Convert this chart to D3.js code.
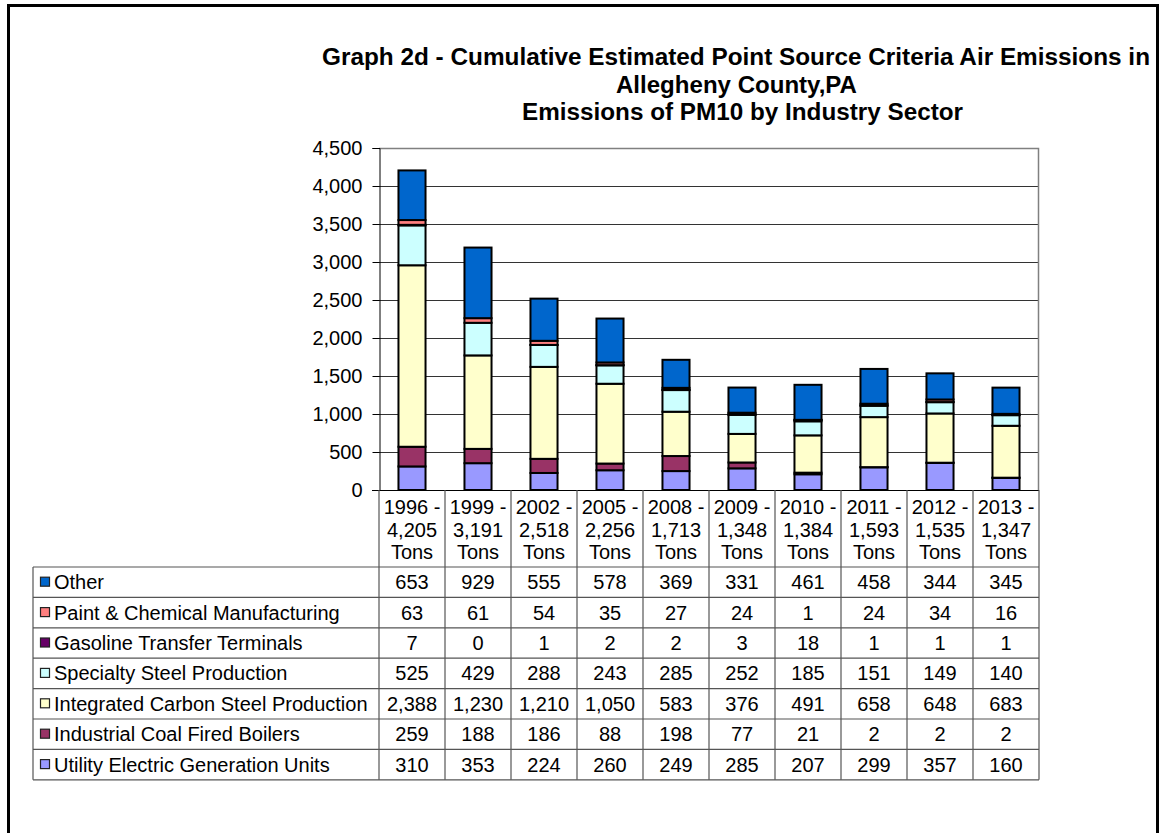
<!DOCTYPE html>
<html>
<head>
<meta charset="utf-8">
<script src="https://cdn.jsdelivr.net/npm/d3@7"></script>
<style>
  body { margin: 0; background: #fff; }
  svg { display: block; font-family: "Liberation Sans", Arial, sans-serif; }
</style>
</head>
<body>
<svg id="chart" width="1161" height="833"></svg>
<script>
// data
const years = ["1996", "1999", "2002", "2005", "2008", "2009", "2010", "2011", "2012", "2013"];
const totalLabels = ["4,205", "3,191", "2,518", "2,256", "1,713", "1,348", "1,384", "1,593", "1,535", "1,347"];

const other      = [653, 929, 555, 578, 369, 331, 461, 458, 344, 345];
const paint      = [63, 61, 54, 35, 27, 24, 1, 24, 34, 16];
const gasoline   = [7, 0, 1, 2, 2, 3, 18, 1, 1, 1];
const specialty  = [525, 429, 288, 243, 285, 252, 185, 151, 149, 140];
const integrated = [2388, 1230, 1210, 1050, 583, 376, 491, 658, 648, 683];
const coal       = [259, 188, 186, 88, 198, 77, 21, 2, 2, 2];
const utility    = [310, 353, 224, 260, 249, 285, 207, 299, 357, 160];

const yTicks = [0, 500, 1000, 1500, 2000, 2500, 3000, 3500, 4000, 4500];

// series, bottom of the stack first
const series = [
  { key: "utility",    name: "Utility Electric Generation Units",   color: "#9999FF", values: utility },
  { key: "coal",       name: "Industrial Coal Fired Boilers",       color: "#993366", values: coal },
  { key: "integrated", name: "Integrated Carbon Steel Production",  color: "#FFFFCC", values: integrated },
  { key: "specialty",  name: "Specialty Steel Production",          color: "#CCFFFF", values: specialty },
  { key: "gasoline",   name: "Gasoline Transfer Terminals",         color: "#660066", values: gasoline },
  { key: "paint",      name: "Paint & Chemical Manufacturing",      color: "#FF8080", values: paint },
  { key: "other",      name: "Other",                               color: "#0066CC", values: other }
];

const svg = d3.select("#chart");

// outer frame
svg.append("rect")
  .attr("x", 8.5).attr("y", 5.5)
  .attr("width", 1149).attr("height", 840)
  .attr("fill", "none")
  .attr("stroke", "#000")
  .attr("stroke-width", 3);

// title (width of each line)
const titleLines = [
  { text: "Graph 2d - Cumulative Estimated Point Source Criteria Air Emissions in", cx: 736, w: 828 },
  { text: "Allegheny County,PA", cx: 736.5, w: 241 },
  { text: "Emissions of PM10 by Industry Sector", cx: 742.5, w: 441 }
];
svg.append("g")
  .selectAll("text")
  .data(titleLines)
  .join("text")
  .attr("x", d => d.cx)
  .attr("y", (d, i) => 65 + i * 27.5)
  .attr("text-anchor", "middle")
  .attr("font-size", "23.5px")
  .attr("font-weight", "bold")
  .attr("fill", "#000")
  .attr("textLength", d => d.w)
  .attr("lengthAdjust", "spacingAndGlyphs")
  .text(d => d.text);

// plot area
const plot = { left: 379, right: 1039, top: 148, bottom: 490 };

const x = d3.scaleBand()
  .domain(years)
  .range([plot.left, plot.right])
  .paddingInner(0.59)
  .paddingOuter(0.295);

const y = d3.scaleLinear()
  .domain([0, 4500])
  .range([plot.bottom, plot.top]);

// gridlines
svg.append("g")
  .selectAll("line")
  .data(yTicks.filter(t => t > 0 && t < 4500))
  .join("line")
  .attr("x1", plot.left).attr("x2", plot.right)
  .attr("y1", d => Math.round(y(d)) + 0.5)
  .attr("y2", d => Math.round(y(d)) + 0.5)
  .attr("stroke", "#333")
  .attr("stroke-width", 1);

// plot border top/right
svg.append("path")
  .attr("d", `M${plot.left},${plot.top + 0.5}H${plot.right - 0.5}V${plot.bottom}`)
  .attr("fill", "none")
  .attr("stroke", "#808080")
  .attr("stroke-width", 1.5);

// y axis
const yAxis = svg.append("g")
  .attr("transform", `translate(${plot.left + 0.5},0)`)
  .call(d3.axisLeft(y).tickValues(yTicks).tickSize(7).tickPadding(10).tickFormat(d3.format(",")));
yAxis.selectAll("text")
  .attr("font-size", "20px")
  .attr("font-family", "Liberation Sans, Arial, sans-serif")
  .attr("fill", "#000");
yAxis.select(".domain").attr("stroke", "#000");
yAxis.selectAll(".tick line").attr("stroke", "#000");

// stacked bars
const table = years.map((yr, i) => {
  const row = { year: yr };
  series.forEach(s => { row[s.key] = s.values[i]; });
  return row;
});
const stack = d3.stack().keys(series.map(s => s.key));
const stacked = stack(table);

svg.append("g")
  .selectAll("g")
  .data(stacked)
  .join("g")
  .attr("fill", (d, i) => series[i].color)
  .selectAll("rect")
  .data(d => d)
  .join("rect")
  .attr("x", d => x(d.data.year))
  .attr("y", d => y(d[1]))
  .attr("width", x.bandwidth())
  .attr("height", d => Math.max(0, y(d[0]) - y(d[1])))
  .attr("stroke", "#000")
  .attr("stroke-width", 2);

// x axis baseline
svg.append("line")
  .attr("x1", plot.left - 7).attr("x2", plot.right)
  .attr("y1", plot.bottom + 0.5).attr("y2", plot.bottom + 0.5)
  .attr("stroke", "#000")
  .attr("stroke-width", 1);

// data table
const rowH = 30.4;
const tableTop = 567;
const tableLeft = 33;
const rows = series.slice().reverse();
const tableBottom = tableTop + rows.length * rowH;
const step = x.step();
const colEdges = d3.range(years.length + 1).map(i => plot.left + i * step);

const grid = svg.append("g")
  .attr("stroke", "#555")
  .attr("stroke-width", 1.2);

// horizontal rules
d3.range(rows.length + 1).forEach(i => {
  grid.append("line")
    .attr("x1", tableLeft).attr("x2", plot.right)
    .attr("y1", tableTop + i * rowH).attr("y2", tableTop + i * rowH);
});
// vertical rules
colEdges.forEach(cx => {
  grid.append("line")
    .attr("x1", cx).attr("x2", cx)
    .attr("y1", plot.bottom).attr("y2", tableBottom);
});
grid.append("line")
  .attr("x1", tableLeft).attr("x2", tableLeft)
  .attr("y1", tableTop).attr("y2", tableBottom);

// header cells: year / total / Tons
const header = svg.append("g")
  .selectAll("text")
  .data(years)
  .join("text")
  .attr("x", d => x(d) + x.bandwidth() / 2)
  .attr("text-anchor", "middle")
  .attr("font-size", "20px")
  .attr("fill", "#000");
header.append("tspan")
  .attr("x", d => x(d) + x.bandwidth() / 2)
  .attr("y", 514)
  .text(d => d + " -");
header.append("tspan")
  .attr("x", d => x(d) + x.bandwidth() / 2)
  .attr("y", 536.5)
  .text((d, i) => totalLabels[i]);
header.append("tspan")
  .attr("x", d => x(d) + x.bandwidth() / 2)
  .attr("y", 559)
  .text("Tons");

// table rows
const fmt = d3.format(",");
const rowG = svg.append("g")
  .selectAll("g")
  .data(rows)
  .join("g")
  .attr("transform", (d, i) => `translate(0,${tableTop + i * rowH})`);

rowG.append("rect")
  .attr("x", 40.5).attr("y", rowH / 2 - 5)
  .attr("width", 9).attr("height", 9)
  .attr("fill", d => d.color)
  .attr("stroke", "#222")
  .attr("stroke-width", 1.2);

rowG.append("text")
  .attr("x", 54)
  .attr("y", rowH / 2 + 7)
  .attr("font-size", "20px")
  .attr("fill", "#000")
  .text(d => d.name);

rowG.selectAll("text.val")
  .data(d => d.values.map((v, i) => ({ v, year: years[i] })))
  .join("text")
  .attr("class", "val")
  .attr("x", d => x(d.year) + x.bandwidth() / 2)
  .attr("y", rowH / 2 + 7)
  .attr("text-anchor", "middle")
  .attr("font-size", "20px")
  .attr("fill", "#000")
  .text(d => fmt(d.v));
</script>
</body>
</html>
